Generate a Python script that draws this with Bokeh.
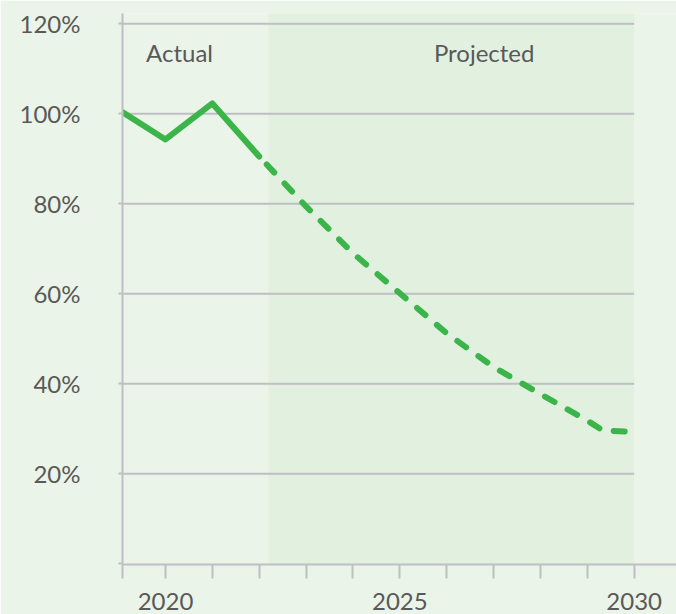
from bokeh.plotting import figure
from bokeh.models import FixedTicker, BoxAnnotation, Range1d, PrintfTickFormatter
from bokeh.core.properties import value
from bokeh.embed import file_html
from bokeh.resources import INLINE

# ---- data ----
actual_years = [2019, 2020, 2021, 2022]
actual_pct = [100.9, 94.3, 102.3, 90.5]
proj_years = [2022, 2023, 2024, 2025, 2026, 2027, 2028, 2029, 2029.33, 2030]
proj_pct = [90.5, 79.4, 69.0, 60.1, 51.2, 43.7, 37.7, 31.8, 29.6, 29.3]
y_ticks = [0, 20, 40, 60, 80, 100, 120]
x_tick_years = list(range(2020, 2031))
x_labelled = [2020, 2025, 2030]
region_labels = ["Actual", "Projected"]
projection_start = 2022.2
projection_end = 2030

# ---- layout / style ----
x_start, x_end = 2019.083, 2030.903
BG = "#ebf4e8"
SHADE = "#e2f0e0"
GRAY = "#bebec3"
GREEN = "#3bb54a"
TXT = "#595959"
FONT = "Lato"

p = figure(width=676, height=614,
           x_range=Range1d(x_start, x_end), y_range=Range1d(-0.2, 122.3),
           output_backend="svg", toolbar_location=None,
           min_border_left=122, min_border_right=0,
           min_border_top=13, min_border_bottom=50)
p.background_fill_color = BG
p.border_fill_color = BG
p.outline_line_color = None
p.xgrid.visible = False
p.ygrid.visible = False

shade = BoxAnnotation(left=projection_start, right=projection_end,
                      fill_color=SHADE, fill_alpha=1.0, line_alpha=0,
                      level="underlay")
p.add_layout(shade)

grid_vals = [v for v in y_ticks if v > 0]
p.segment(x0=[x_start] * len(grid_vals), x1=[projection_end] * len(grid_vals),
          y0=grid_vals, y1=grid_vals, line_color=GRAY, line_width=2)

p.line(actual_years, actual_pct, line_color=GREEN, line_width=6,
       line_cap="round", line_join="round")
p.line(proj_years, proj_pct, line_color=GREEN, line_width=6,
       line_cap="round", line_join="round", line_dash="11 15",
       line_dash_offset=15)

p.text(x=[2020.3, 2026.8], y=[113.7, 113.7], text=region_labels,
       text_font=value(FONT), text_font_size=value("24px"),
       text_color=TXT, text_align="center", text_baseline="alphabetic")

# x axis
xa = p.xaxis[0]
xa.ticker = FixedTicker(ticks=[x_start] + x_tick_years)
overrides = {y: (str(y) if y in x_labelled else "") for y in x_tick_years}
overrides[x_start] = ""
xa.major_label_overrides = overrides
xa.major_tick_out = 14
xa.major_tick_in = 0
xa.minor_tick_out = 0
xa.minor_tick_in = 0
xa.axis_line_color = GRAY
xa.axis_line_width = 2
xa.major_tick_line_color = GRAY
xa.major_tick_line_width = 2
xa.major_label_text_font = FONT
xa.major_label_text_font_size = "24px"
xa.major_label_text_color = TXT
xa.major_label_standoff = 14

# y axis
ya = p.yaxis[0]
ya.ticker = FixedTicker(ticks=y_ticks)
ya.formatter = PrintfTickFormatter(format="%d%%")
ya.major_label_overrides = {0: ""}
ya.major_tick_out = 4
ya.major_tick_in = 0
ya.minor_tick_out = 0
ya.minor_tick_in = 0
ya.axis_line_color = GRAY
ya.axis_line_width = 2
ya.major_tick_line_color = GRAY
ya.major_tick_line_width = 2
ya.major_label_text_font = FONT
ya.major_label_text_font_size = "24px"
ya.major_label_text_color = TXT
ya.major_label_standoff = 38

open("out.html", "w").write(file_html(p, INLINE))
